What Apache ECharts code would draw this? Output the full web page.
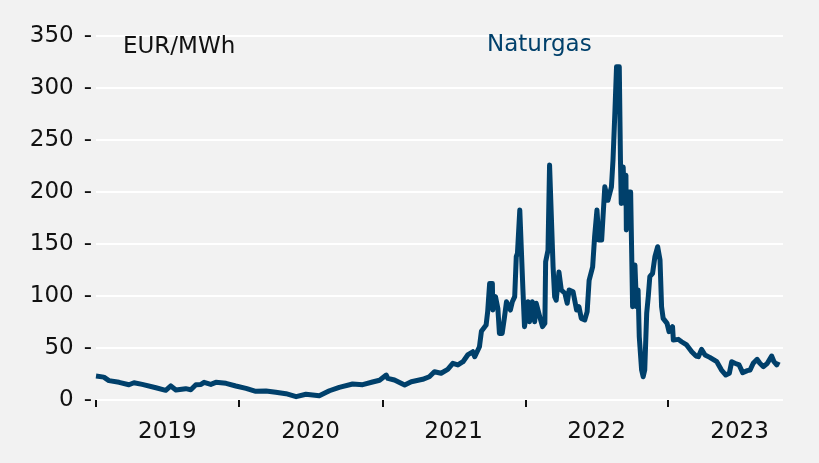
<!DOCTYPE html>
<html>
<head>
<meta charset="utf-8">
<title>Naturgas</title>
<script src="https://cdn.jsdelivr.net/npm/echarts@6/dist/echarts.min.js"></script>
<style>
  html, body { margin: 0; padding: 0; background: #f2f2f2; }
  #chart { width: 819px; height: 463px; }
</style>
</head>
<body>
<div id="chart"></div>
<script>
// Naturgas, EUR/MWh
const dates = [
  '2019-01-01', '2019-01-21', '2019-02-03', '2019-03-01', '2019-03-26', '2019-04-08', '2019-04-29',
  '2019-06-03', '2019-06-28', '2019-07-11', '2019-07-24', '2019-08-18', '2019-08-31', '2019-09-13',
  '2019-09-26', '2019-10-04', '2019-10-21', '2019-11-03', '2019-11-29', '2019-12-24',
  '2020-01-19', '2020-02-13', '2020-03-10', '2020-04-04', '2020-04-30', '2020-05-26', '2020-06-20',
  '2020-07-24', '2020-08-19', '2020-09-13', '2020-10-17', '2020-11-12', '2020-12-07', '2020-12-25',
  '2021-01-11', '2021-01-15', '2021-02-01', '2021-02-27', '2021-03-16', '2021-04-14', '2021-05-01',
  '2021-05-14', '2021-05-31', '2021-06-17', '2021-06-30', '2021-07-13', '2021-07-26', '2021-08-07',
  '2021-08-20', '2021-08-25', '2021-09-06', '2021-09-11', '2021-09-23', '2021-09-27', '2021-10-02',
  '2021-10-09', '2021-10-10', '2021-10-17', '2021-10-23', '2021-10-27', '2021-11-03', '2021-11-09',
  '2021-11-14', '2021-11-24', '2021-11-29', '2021-12-05', '2021-12-09', '2021-12-12', '2021-12-18',
  '2021-12-22', '2021-12-26', '2021-12-30',
  '2022-01-04', '2022-01-08', '2022-01-12', '2022-01-19', '2022-01-25', '2022-01-29', '2022-02-07',
  '2022-02-14', '2022-02-20', '2022-02-22', '2022-02-28', '2022-03-04', '2022-03-09', '2022-03-13',
  '2022-03-17', '2022-03-21', '2022-03-28', '2022-04-03', '2022-04-12', '2022-04-18', '2022-04-23',
  '2022-05-03', '2022-05-12', '2022-05-18', '2022-05-24', '2022-06-02', '2022-06-08', '2022-06-13',
  '2022-06-22', '2022-06-27', '2022-07-03', '2022-07-08', '2022-07-15', '2022-07-23', '2022-07-31',
  '2022-08-09', '2022-08-13', '2022-08-18', '2022-08-22', '2022-08-29', '2022-09-01', '2022-09-03',
  '2022-09-08', '2022-09-11', '2022-09-15', '2022-09-16', '2022-09-20', '2022-09-27', '2022-10-02',
  '2022-10-08', '2022-10-12', '2022-10-16', '2022-10-19', '2022-10-25', '2022-10-29', '2022-11-02',
  '2022-11-07', '2022-11-11', '2022-11-15', '2022-11-22', '2022-11-28', '2022-12-05', '2022-12-11',
  '2022-12-15', '2022-12-19', '2022-12-29',
  '2023-01-03', '2023-01-12', '2023-01-14', '2023-01-27', '2023-02-04', '2023-02-17', '2023-03-02',
  '2023-03-13', '2023-03-19', '2023-03-27', '2023-04-05', '2023-04-17', '2023-05-05', '2023-05-17',
  '2023-05-28', '2023-06-06', '2023-06-12', '2023-06-20', '2023-07-01', '2023-07-10', '2023-07-22',
  '2023-07-29', '2023-08-06', '2023-08-16', '2023-08-23', '2023-09-01', '2023-09-11', '2023-09-22',
  '2023-09-28', '2023-10-05', '2023-10-09'
]
const prices = [
  23, 22, 18.6, 17, 14.7, 16.6, 15,
  11.8, 9.3, 13.5, 9.6, 10.9, 9.9, 14.7,
  15, 17, 15, 17, 16, 13.5,
  11.2, 8.3, 8.7, 7.4, 6.1, 3.2, 5.5,
  4.1, 8.9, 12.2, 15.4, 14.7, 17.3, 19,
  24, 20.8, 19.2, 14.4, 17.6, 19.9, 22.4,
  27.2, 25.7, 29.5, 35.3, 33.7, 36.8, 43.3,
  46.4, 41.6, 51.2, 66, 72, 85, 112,
  112, 86.5, 99.4, 88, 64, 64, 80,
  94.5, 86.5, 94.5, 99.4, 137.8, 141, 182.7,
  182.7, 105.8, 70.5,
  70.5, 94.5, 75.3, 94.5, 75.3, 93, 80,
  70.5, 73.7, 133, 144, 226, 226, 128,
  99.4, 96, 123, 105.8, 102.6, 93, 105.8,
  104, 86.5, 89.7, 78.5, 77, 85, 115,
  128, 157, 182.7, 153.8, 153.8, 205, 192,
  205, 230.8, 278.8, 320.5, 320.5, 230.8, 189,
  224, 189, 216, 163.5, 200, 200, 89.7,
  129.8, 89.7, 105.8, 61, 28.8, 22.4, 28.8,
  83.4, 99.4, 118.6, 121.8, 137.8, 147.4, 134.6,
  89.7, 78.5, 73.7,
  65.7, 70.5, 57.7, 58.3, 56, 52.9, 46.4,
  42.3, 41.6, 48.7, 43.3, 41, 36.8, 28.8,
  24, 25.7, 36.8, 35.3, 33.7, 26.3, 28.2,
  28.8, 35.3, 39.1, 35.3, 32, 35.3, 42.3,
  36.8, 33.7, 36.8
]
const yearStarts = ['2019-01-01', '2020-01-01', '2021-01-01', '2022-01-01', '2023-01-01']
const yearMiddles = ['2019-07-02', '2020-07-02', '2021-07-02', '2022-07-02', '2023-07-02']
const xMin = '2019-01-01'
const xMax = '2023-10-21'

const fontFamily = '"DejaVu Sans", sans-serif'
const lineColor = '#00406b'

const toTime = d => Date.parse(d)

const chart = echarts.init(document.getElementById('chart'))

chart.setOption({
  backgroundColor: '#f2f2f2',
  animation: false,
  grid: {
    left: 96,
    right: 36,
    top: 36,
    bottom: 63
  },
  graphic: [{
    type: 'text',
    left: 123,
    top: 36,
    z: 100,
    style: {
      text: 'EUR/MWh',
      fill: '#111',
      font: '23px ' + fontFamily
    }
  }, {
    type: 'text',
    left: 487,
    top: 34,
    z: 100,
    style: {
      text: 'Naturgas',
      fill: lineColor,
      font: '23px ' + fontFamily
    }
  }],
  xAxis: {
    type: 'value',
    min: toTime(xMin),
    max: toTime(xMax),
    offset: 3,
    axisLine: { show: false },
    splitLine: { show: false },
    axisTick: {
      show: true,
      length: 7,
      customValues: yearStarts.map(toTime),
      lineStyle: { color: '#111', width: 2 }
    },
    axisLabel: {
      customValues: yearMiddles.map(toTime),
      formatter: v => String(new Date(v).getUTCFullYear()),
      color: '#111',
      fontFamily: fontFamily,
      fontSize: 23,
      margin: 18
    }
  },
  yAxis: {
    type: 'value',
    min: 0,
    max: 350,
    interval: 50,
    axisLine: { show: false },
    axisTick: { show: false },
    splitLine: {
      lineStyle: { color: '#ffffff', width: 2 }
    },
    axisLabel: {
      formatter: v => v + '{d|-}',
      color: '#111',
      fontFamily: fontFamily,
      fontSize: 23,
      margin: 4,
      rich: {
        d: {
          color: '#111',
          fontFamily: fontFamily,
          fontSize: 23,
          padding: [0, 0, 0, 10]
        }
      }
    }
  },
  series: [{
    name: 'Naturgas',
    type: 'line',
    data: dates.map((d, i) => [toTime(d), prices[i]]),
    symbol: 'none',
    lineStyle: {
      color: lineColor,
      width: 5,
      join: 'round'
    }
  }]
})
</script>
</body>
</html>
